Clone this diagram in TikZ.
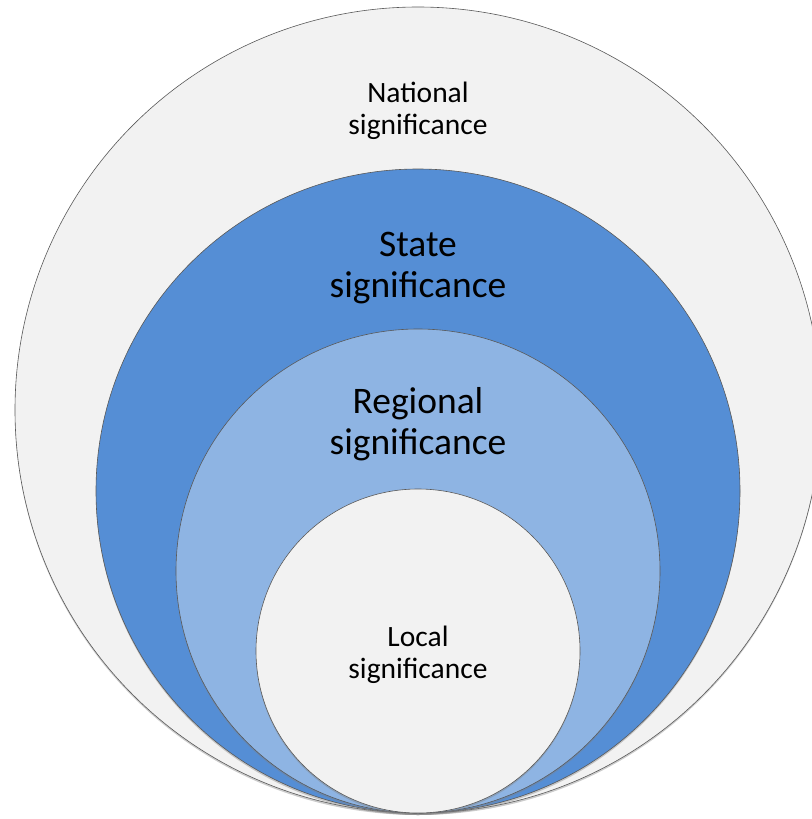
\documentclass[tikz,border=0pt]{standalone}
\usepackage{fontspec}
\setmainfont{Carlito}
\usepackage{xcolor}
\usepackage{tikz}
\usetikzlibrary{positioning, shadows}

\definecolor{ringgray}{HTML}{F2F2F2}
\definecolor{stateblue}{HTML}{558ED5}
\definecolor{regionblue}{HTML}{8EB4E3}

\begin{document}
\begin{tikzpicture}[
        x=1pt, y=-1pt,
        every node/.style={align=center},
        ring/.style={circle, draw=black!65, line width=0.6pt, inner sep=0pt,
            drop shadow={shadow xshift=0pt, shadow yshift=-2pt, opacity=0.4}},
        national/.style={ring, fill=ringgray, minimum size=806pt},
        state/.style={ring, fill=stateblue, minimum size=644pt},
        regional/.style={ring, fill=regionblue, minimum size=484pt},
        local/.style={ring, fill=ringgray, minimum size=324pt},
        smalltext/.style={font=\fontsize{29.5}{32}\selectfont},
        bigtext/.style={font=\fontsize{37.5}{41}\selectfont}
    ]

    \fill[white] (0,0) rectangle (811,819);
    \useasboundingbox (0,0) rectangle (811,819);

    % Circles
    \node[national] (nationalring) at (418,410) {};
    \node[state] (statering) at (418,491) {};
    \node[regional] (regionalring) at (418,571) {};
    \node[local] (localring) at (418,651) {};

    % Labels
    \node[smalltext] (nationaltext) at (418,111) {National\\significance};
    \node[bigtext] (statetext) at (418,268) {State\\significance};
    \node[bigtext] (regionaltext) at (418,424) {Regional\\significance};
    \node[smalltext] (localtext) at (418,655) {Local\\significance};

\end{tikzpicture}
\end{document}
